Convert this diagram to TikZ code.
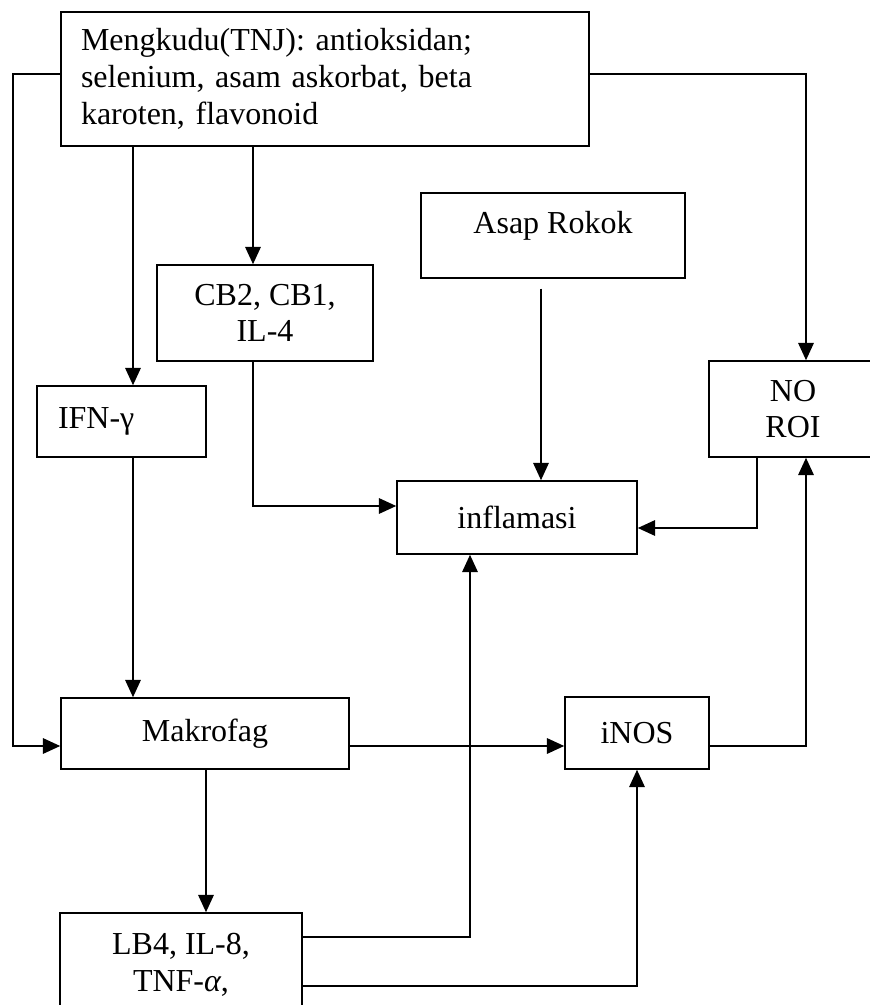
\documentclass[tikz,border=0pt]{standalone}
\usepackage{fontspec}
\setmainfont{Liberation Serif}
\usetikzlibrary{arrows.meta,calc}
\tikzset{
    box/.style={draw, line width=1.1pt, align=center, inner sep=0pt},
    wh/.style 2 args={minimum width=#1*0.75pt, minimum height=#2*0.75pt},
    arr/.style={line width=1.6pt, -{Triangle[length=13pt,width=11.5pt]}}
}

\begin{document}
\begin{tikzpicture}[x=0.75pt, y=-0.75pt, font=\fontsize{24}{27.5}\selectfont]
\useasboundingbox (0,0) rectangle (869,1005);
% boxes
\node[box, wh={528}{134}, text width=488*0.75pt, align=left] (mengkudu) at (325,79) {Mengkudu(TNJ): antioksidan;\\ selenium, asam askorbat, beta\\ karoten, flavonoid};
\node[box, wh={264}{85}, text depth=19.5pt] (asap) at (553,235.5) {Asap Rokok};
\node[box, wh={216}{96}] (cb) at (265,313) {CB2, CB1,\\ IL-4};
\node[box, wh={169}{71}, text width=127*0.75pt, align=left] (ifn) at (121.5,421.5) {IFN-γ};
\node[box, wh={168}{96}] (noroi) at (793,409) {NO\\ ROI};
\node[box, wh={240}{73}] (inflamasi) at (517,517.5) {inflamasi};
\node[box, wh={288}{71}] (makrofag) at (205,733.5) {Makrofag};
\node[box, wh={144}{72}] (inos) at (637,733) {iNOS};
\node[box, wh={242}{103}] (lb4) at (181,964.5) {LB4, IL-8,\\ TNF-\textit{α},};
% bends
\coordinate (kiri) at (13,74);
\coordinate (kanan) at (806,74);
\coordinate (asapout) at ($(asap.south)+(-12,10)$);
% arrows
\draw[arr] (mengkudu.south -| 133,0) -- (ifn.north -| 133,0);
\draw[arr] (mengkudu.south -| 253,0) -- (cb.north -| 253,0);
\draw[arr] (mengkudu.west |- kiri) -- (kiri) |- ($(makrofag.west)+(0,12.5)$);
\draw[arr] (mengkudu.east |- kanan) -- (kanan) -- (noroi.north -| kanan);
\draw[arr] (asapout) -- (inflamasi.north -| asapout);
\draw[arr] (cb.south -| 253,0) |- ($(inflamasi.west)+(0,-11.5)$);
\draw[arr] (noroi.south -| 757,0) |- ($(inflamasi.east)+(0,10.5)$);
\draw[arr] (ifn.south -| 133,0) -- (makrofag.north -| 133,0);
\draw[arr] ($(makrofag.east)+(0,12.5)$) -- ($(inos.west)+(0,13)$);
\draw[arr] ($(inos.east)+(0,13)$) -| (noroi.south -| kanan);
\draw[arr] (makrofag.south -| 206,0) -- (lb4.north -| 206,0);
\draw[arr] ($(lb4.east)+(0,-27.5)$) -| (inflamasi.south -| 470,0);
\draw[arr] ($(lb4.east)+(0,21.5)$) -| (inos.south);
\end{tikzpicture}
\end{document}
